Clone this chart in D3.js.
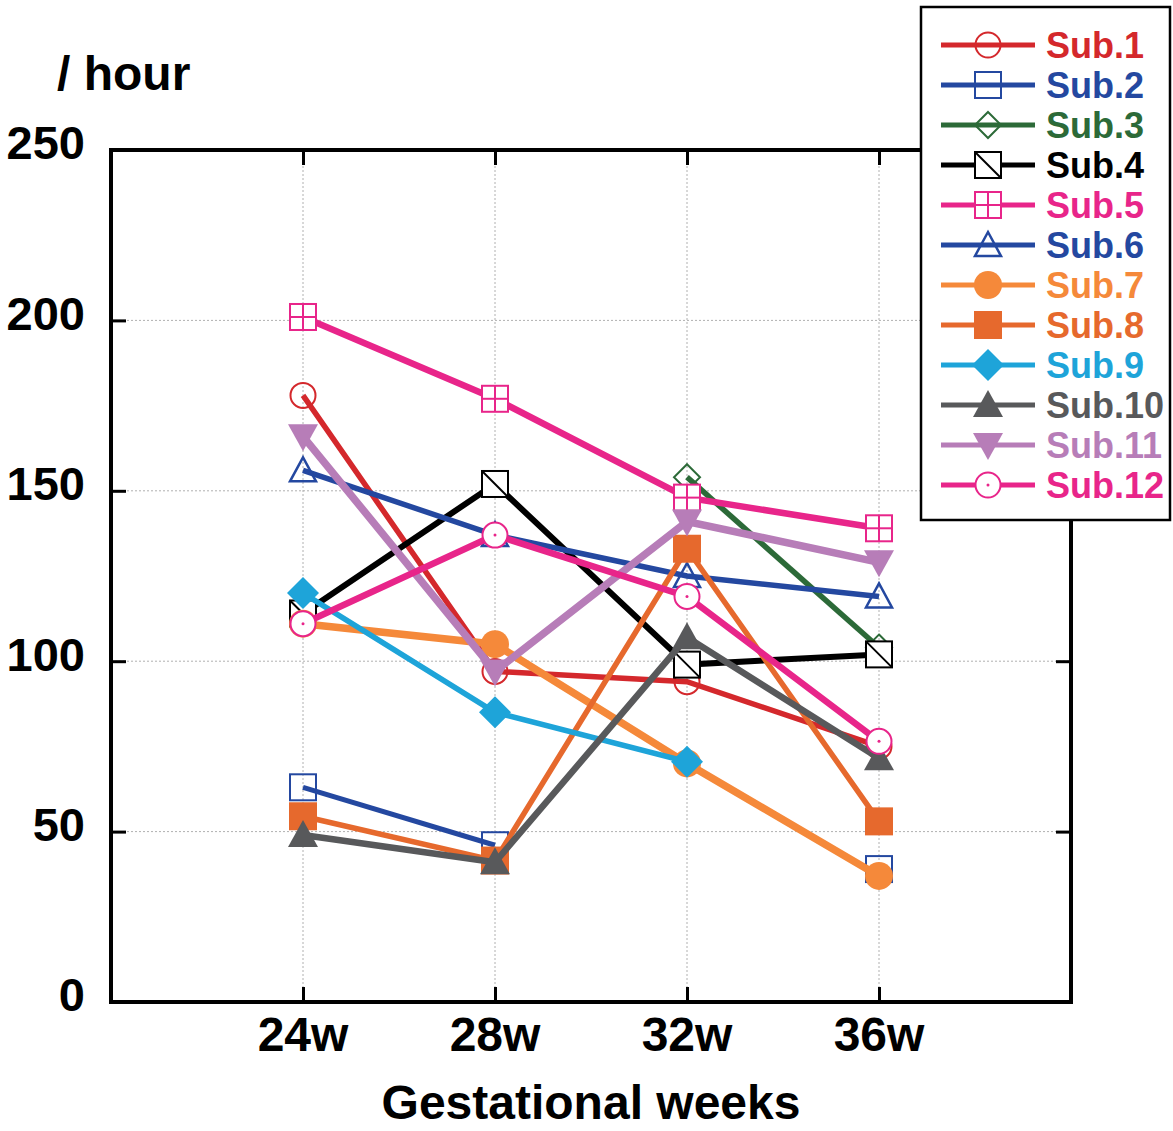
<!DOCTYPE html>
<html>
<head>
<meta charset="utf-8">
<script src="https://cdn.jsdelivr.net/npm/d3@7"></script>
<style>
  body { margin: 0; background: #fff; }
  text { font-family: "Liberation Sans", Arial, sans-serif; font-weight: bold; }
  .grid line { stroke: #b0b0b0; stroke-width: 1; stroke-dasharray: 2,2; }
</style>
</head>
<body>
<div id="chart"></div>
<script>
var weeks = [24, 28, 32, 36];
var weekLabels = ["24w", "28w", "32w", "36w"];
var yTicks = [0, 50, 100, 150, 200, 250];

var sub1  = [178, 97, 94, 75];
var sub2  = [63, 46, null, 39];
var sub3  = [null, null, 154, 104];
var sub4  = [114, 152, 99, 102];
var sub5  = [201, 177, 148, 139];
var sub6  = [156, 137, 125, 119];
var sub7  = [111, 105, 70, 37];
var sub8  = [54.5, 41.5, 133, 53];
var sub9  = [120, 85, 70.5, null];
var sub10 = [49, 41, 107, 71.5];
var sub11 = [166, 97, 141, 129];
var sub12 = [111, 137, 119, 76.5];

var names = ["Sub.1","Sub.2","Sub.3","Sub.4","Sub.5","Sub.6","Sub.7","Sub.8","Sub.9","Sub.10","Sub.11","Sub.12"];
var values = [sub1, sub2, sub3, sub4, sub5, sub6, sub7, sub8, sub9, sub10, sub11, sub12];
var colors = ["#d4282c","#2448a0","#2c6a38","#000000","#e8258a","#2448a0",
              "#f5893a","#e6692d","#1ea4d9","#58595b","#b77db8","#e8258a"];
var shapes = ["circle","square","diamond","squareDiag","squareCross","triangle",
              "circleFill","squareFill","diamondFill","triangleFill","triangleDown","circleDot"];
var widths = [5.5, 5, 5.5, 6, 6.5, 5.5, 7.5, 5.5, 5.5, 6.5, 7.5, 6.5];

var margin = {top: 150, right: 102, bottom: 129, left: 111},
    width = 1173 - margin.left - margin.right,
    height = 1131 - margin.top - margin.bottom;

var svg = d3.select("#chart")
  .append("svg")
    .attr("width", 1173)
    .attr("height", 1131);

var g = svg.append("g")
    .attr("transform", "translate(" + margin.left + "," + margin.top + ")");

var x = d3.scaleLinear().domain([20, 40]).range([0, width]);
var y = d3.scaleLinear().domain([0, 250]).range([height, 0]);

// grid
var grid = g.append("g").attr("class", "grid");
grid.selectAll(".gx").data(weeks).enter().append("line")
    .attr("x1", function(d) { return x(d); }).attr("x2", function(d) { return x(d); })
    .attr("y1", 0).attr("y2", height);
grid.selectAll(".gy").data(yTicks.slice(1, -1)).enter().append("line")
    .attr("y1", function(d) { return y(d); }).attr("y2", function(d) { return y(d); })
    .attr("x1", 0).attr("x2", width);

// inward ticks on all four sides
g.append("g").attr("transform", "translate(0," + height + ")")
    .call(d3.axisBottom(x).tickValues(weeks).tickSize(-15).tickFormat(""));
g.append("g")
    .call(d3.axisTop(x).tickValues(weeks).tickSize(-15).tickFormat(""));
g.append("g")
    .call(d3.axisLeft(y).tickValues(yTicks).tickSize(-15).tickFormat(""));
g.append("g").attr("transform", "translate(" + width + ",0)")
    .call(d3.axisRight(y).tickValues(yTicks).tickSize(-15).tickFormat(""));
g.selectAll(".domain").remove();
g.selectAll(".tick line").attr("stroke", "#000").attr("stroke-width", 3);

g.append("rect")
    .attr("width", width).attr("height", height)
    .attr("fill", "none").attr("stroke", "#000").attr("stroke-width", 4);

// tick labels
g.selectAll(".ylab").data(yTicks).enter().append("text")
    .attr("x", -26)
    .attr("y", function(d) { return y(d); })
    .attr("dy", "0.2em")
    .attr("text-anchor", "end")
    .style("font-size", "47px")
    .text(function(d) { return d; });

g.selectAll(".xlab").data(weeks).enter().append("text")
    .attr("x", function(d) { return x(d); })
    .attr("y", height + 49)
    .attr("text-anchor", "middle")
    .style("font-size", "48px")
    .text(function(d, i) { return weekLabels[i]; });

svg.append("text")
    .attr("x", margin.left + width / 2)
    .attr("y", 1119)
    .attr("text-anchor", "middle")
    .style("font-size", "48px")
    .text("Gestational weeks");

svg.append("text")
    .attr("x", 57)
    .attr("y", 90)
    .style("font-size", "48px")
    .text("/ hour");

// markers
function drawMarker(sel, shape, color) {
  var s = 13;
  var open = ["circle","square","diamond","triangle"].indexOf(shape) >= 0;
  var white = ["squareDiag","squareCross","circleDot"].indexOf(shape) >= 0;
  var fill = open ? "none" : (white ? "#fff" : color);
  var sw = 2;
  if (shape === "circle" || shape === "circleDot") {
    sel.append("circle").attr("r", 12.5).attr("fill", fill).attr("stroke", color).attr("stroke-width", sw);
    if (shape === "circleDot") sel.append("circle").attr("r", 1.5).attr("fill", color);
  } else if (shape === "circleFill") {
    sel.append("circle").attr("r", 14).attr("fill", color);
  } else if (shape === "square" || shape === "squareDiag" || shape === "squareCross") {
    sel.append("rect").attr("x", -s).attr("y", -s).attr("width", 2 * s).attr("height", 2 * s)
        .attr("fill", fill).attr("stroke", color).attr("stroke-width", sw);
    if (shape === "squareDiag")
      sel.append("line").attr("x1", -s).attr("y1", -s).attr("x2", s).attr("y2", s)
          .attr("stroke", color).attr("stroke-width", sw);
    if (shape === "squareCross") {
      sel.append("line").attr("x1", -s).attr("y1", 0).attr("x2", s).attr("y2", 0)
          .attr("stroke", color).attr("stroke-width", sw);
      sel.append("line").attr("x1", 0).attr("y1", -s).attr("x2", 0).attr("y2", s)
          .attr("stroke", color).attr("stroke-width", sw);
    }
  } else if (shape === "squareFill") {
    sel.append("rect").attr("x", -14).attr("y", -14).attr("width", 28).attr("height", 28).attr("fill", color);
  } else if (shape === "diamond") {
    sel.append("path").attr("d", "M0,-13L13,0L0,13L-13,0Z")
        .attr("fill", fill).attr("stroke", color).attr("stroke-width", sw);
  } else if (shape === "diamondFill") {
    sel.append("path").attr("d", "M0,-16L16,0L0,16L-16,0Z").attr("fill", color);
  } else if (shape === "triangle") {
    sel.append("path").attr("d", "M0,-13L13,11L-13,11Z")
        .attr("fill", fill).attr("stroke", color).attr("stroke-width", sw + 0.5);
  } else if (shape === "triangleFill") {
    sel.append("path").attr("d", "M0,-15L15,12L-15,12Z").attr("fill", color);
  } else if (shape === "triangleDown") {
    sel.append("path").attr("d", "M0,15L15,-12L-15,-12Z").attr("fill", color);
  }
}

var line = d3.line()
    .defined(function(d) { return d.v != null; })
    .x(function(d) { return x(d.w); })
    .y(function(d) { return y(d.v); });

values.forEach(function(vals, k) {
  var pts = weeks.map(function(w, i) { return {w: w, v: vals[i]}; });
  var sg = g.append("g");
  sg.append("path")
      .datum(pts)
      .attr("fill", "none")
      .attr("stroke", colors[k])
      .attr("stroke-width", widths[k])
      .attr("d", line);
  pts.filter(function(d) { return d.v != null; }).forEach(function(d) {
    var m = sg.append("g").attr("transform", "translate(" + x(d.w) + "," + y(d.v) + ")");
    drawMarker(m, shapes[k], colors[k]);
  });
});

// legend
var legend = svg.append("g").attr("transform", "translate(921,7)");
legend.append("rect")
    .attr("width", 249).attr("height", 513)
    .attr("fill", "#fff").attr("stroke", "#000").attr("stroke-width", 2.5);

names.forEach(function(n, k) {
  var row = legend.append("g").attr("transform", "translate(0," + (38 + k * 40) + ")");
  row.append("line").attr("x1", 20).attr("x2", 114).attr("y1", 0).attr("y2", 0)
      .attr("stroke", colors[k]).attr("stroke-width", 5);
  var m = row.append("g").attr("transform", "translate(67,0)");
  drawMarker(m, shapes[k], colors[k]);
  row.append("text")
      .attr("x", 125).attr("y", 0).attr("dy", "0.36em")
      .attr("fill", colors[k])
      .style("font-size", "36px")
      .text(n);
});
</script>
</body>
</html>
